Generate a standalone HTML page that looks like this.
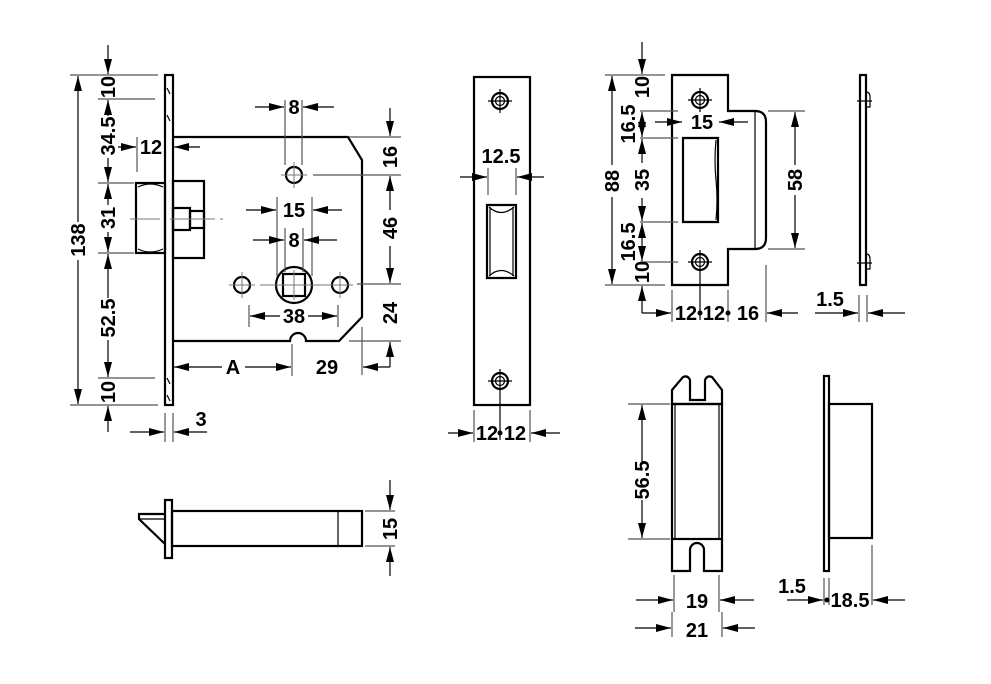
<!DOCTYPE html>
<html><head><meta charset="utf-8"><style>
html,body{margin:0;padding:0;background:#fff;}
svg{display:block;}
text{font-family:"Liberation Sans",Arial,sans-serif;font-weight:bold;font-size:20px;fill:#000;}
.o{fill:none;stroke:#000;stroke-width:2.2;}
.t{fill:none;stroke:#000;stroke-width:1.2;}
.e{fill:none;stroke:#555;stroke-width:1.2;}
.c{fill:none;stroke:#777;stroke-width:1;}
.d{fill:none;stroke:#000;stroke-width:1.2;}
</style></head><body>
<svg width="991" height="684" viewBox="0 0 991 684" xmlns="http://www.w3.org/2000/svg">
<defs>
<marker id="a" markerUnits="userSpaceOnUse" markerWidth="16" markerHeight="10" refX="15" refY="5" orient="auto"><path d="M0,1 L15,5 L0,9 z" fill="#000"/></marker>
</defs>

<!-- ===== MAIN LOCK ===== -->
<rect class="o" x="165" y="75" width="8" height="330"/>
<path class="t" d="M167,88 l3,6 M167,115 l3,6 M167,378 l3,6 M167,395 l3,6"/>
<path class="o" d="M173,137 H348 L362,160 V317 L339,341 H306 A8,8 0 0 0 290,341 H173"/>
<rect class="o" x="136" y="183" width="29" height="70"/>
<path class="t" d="M138,187 Q150,181 163,187 M138,249 Q150,255 163,249"/>
<rect class="o" x="173" y="181" width="31" height="77"/>
<rect class="o" x="173" y="208" width="17" height="22"/>
<rect class="o" x="190" y="211" width="14" height="17"/>
<path class="c" d="M130,219 H160 M170,219 H215 M220,219 h3"/>
<circle class="o" cx="294" cy="175" r="8"/>
<path class="c" d="M281,175 H307 M294,162 V188"/>
<circle class="o" cx="294" cy="285" r="18"/>
<rect class="o" x="283" y="274" width="22" height="22"/>
<path class="c" d="M283,285 H305 M294,270 V300 M260,285 H330"/>
<circle class="o" cx="242" cy="285" r="8"/>
<circle class="o" cx="340" cy="285" r="8"/>
<path class="c" d="M229,285 H255 M242,272 V298 M327,285 H353 M340,272 V298"/>

<path class="e" d="M70,75 H158 M98,99 H155 M98,183 H134 M98,253 H134 M98,378 H155 M70,405 H158"/>
<line class="d" x1="78" y1="222" x2="78" y2="76" marker-end="url(#a)"/>
<line class="d" x1="78" y1="260" x2="78" y2="404" marker-end="url(#a)"/>
<text transform="translate(85,240) rotate(-90)" text-anchor="middle">138</text>
<line class="d" x1="108" y1="45" x2="108" y2="74" marker-end="url(#a)"/>
<text transform="translate(115,87) rotate(-90)" text-anchor="middle">10</text>
<line class="d" x1="108" y1="116" x2="108" y2="100" marker-end="url(#a)"/>
<text transform="translate(115,136) rotate(-90)" text-anchor="middle">34.5</text>
<line class="d" x1="108" y1="158" x2="108" y2="182" marker-end="url(#a)"/>
<line class="d" x1="108" y1="205" x2="108" y2="184" marker-end="url(#a)"/>
<text transform="translate(115,218) rotate(-90)" text-anchor="middle">31</text>
<line class="d" x1="108" y1="232" x2="108" y2="252" marker-end="url(#a)"/>
<line class="d" x1="108" y1="298" x2="108" y2="254" marker-end="url(#a)"/>
<text transform="translate(115,318) rotate(-90)" text-anchor="middle">52.5</text>
<line class="d" x1="108" y1="340" x2="108" y2="377" marker-end="url(#a)"/>
<text transform="translate(115,392) rotate(-90)" text-anchor="middle">10</text>
<line class="d" x1="108" y1="432" x2="108" y2="406" marker-end="url(#a)"/>
<path class="e" d="M137,137 V172"/>
<line class="d" x1="118" y1="147" x2="136" y2="147" marker-end="url(#a)"/>
<line class="d" x1="200" y1="147" x2="174" y2="147" marker-end="url(#a)"/>
<text x="151" y="154" text-anchor="middle">12</text>
<path class="e" d="M165,413 V442 M173,413 V442"/>
<line class="d" x1="130" y1="432" x2="164" y2="432" marker-end="url(#a)"/>
<line class="d" x1="207" y1="432" x2="174" y2="432" marker-end="url(#a)"/>
<text x="201" y="426" text-anchor="middle">3</text>
<path class="e" d="M292,344 V376"/>
<line class="d" x1="222" y1="367" x2="174" y2="367" marker-end="url(#a)"/>
<line class="d" x1="245" y1="367" x2="291" y2="367" marker-end="url(#a)"/>
<text x="233" y="374" text-anchor="middle">A</text>
<text x="327" y="374" text-anchor="middle">29</text>
<path class="e" d="M362,327 V375"/>
<line class="d" x1="390" y1="367" x2="363" y2="367" marker-end="url(#a)"/>
<line class="d" x1="390" y1="367" x2="390" y2="342" marker-end="url(#a)"/>
<path class="e" d="M285,100 V165 M302,100 V165"/>
<line class="d" x1="255" y1="107" x2="284" y2="107" marker-end="url(#a)"/>
<line class="d" x1="334" y1="107" x2="303" y2="107" marker-end="url(#a)"/>
<text x="294" y="114" text-anchor="middle">8</text>
<path class="e" d="M277,197 V276 M312,197 V276"/>
<line class="d" x1="246" y1="210" x2="276" y2="210" marker-end="url(#a)"/>
<line class="d" x1="342" y1="210" x2="313" y2="210" marker-end="url(#a)"/>
<text x="294" y="217" text-anchor="middle">15</text>
<path class="e" d="M285,228 V272 M303,228 V272"/>
<line class="d" x1="253" y1="240" x2="284" y2="240" marker-end="url(#a)"/>
<line class="d" x1="337" y1="240" x2="304" y2="240" marker-end="url(#a)"/>
<text x="294" y="247" text-anchor="middle">8</text>
<path class="e" d="M249,305 V327 M338,305 V327"/>
<line class="d" x1="280" y1="316" x2="250" y2="316" marker-end="url(#a)"/>
<line class="d" x1="308" y1="316" x2="337" y2="316" marker-end="url(#a)"/>
<text x="294" y="323" text-anchor="middle">38</text>
<path class="e" d="M349,137 H401 M313,175 H401 M357,284 H401 M349,341 H401"/>
<line class="d" x1="390" y1="108" x2="390" y2="136" marker-end="url(#a)"/>
<text transform="translate(397,157) rotate(-90)" text-anchor="middle">16</text>
<line class="d" x1="390" y1="210" x2="390" y2="176" marker-end="url(#a)"/>
<text transform="translate(397,228) rotate(-90)" text-anchor="middle">46</text>
<line class="d" x1="390" y1="246" x2="390" y2="283" marker-end="url(#a)"/>
<text transform="translate(397,313) rotate(-90)" text-anchor="middle">24</text>

<!-- ===== FOREND PLATE ===== -->
<rect class="o" x="474" y="77" width="56" height="328"/>
<circle class="o" cx="500" cy="101" r="8"/><circle class="t" cx="500" cy="101" r="4.5"/>
<path class="t" d="M488,101 H512 M500,89 V113"/>
<circle class="o" cx="500" cy="381" r="8"/><circle class="t" cx="500" cy="381" r="4.5"/>
<path class="t" d="M488,381 H512 M500,369 V440"/>
<path class="o" d="M487,205 H516 V278 H487 Z"/>
<path class="t" d="M490,207 V276 M513,207 V276 M489,207 Q501,218 514,207 M489,276 Q501,265 514,276"/>
<path class="e" d="M488,168 V195 M516,168 V195"/>
<line class="d" x1="460" y1="177" x2="487" y2="177" marker-end="url(#a)"/>
<line class="d" x1="544" y1="177" x2="517" y2="177" marker-end="url(#a)"/>
<text x="501" y="163" text-anchor="middle">12.5</text>
<path class="e" d="M474,410 V442 M530,410 V442"/>
<line class="d" x1="448" y1="433" x2="473" y2="433" marker-end="url(#a)"/>
<line class="d" x1="560" y1="433" x2="531" y2="433" marker-end="url(#a)"/>
<circle cx="500" cy="433" r="2.5" fill="#000"/>
<text x="487" y="440" text-anchor="middle">12</text>
<text x="515" y="440" text-anchor="middle">12</text>

<!-- ===== STRIKE PLATE ===== -->
<path class="o" d="M672,75 H728 V111 H755 Q766,111 766,122 V238 Q766,249 755,249 H728 V285 H672 Z"/>
<path class="t" d="M755,112 V248"/>
<path class="o" d="M683,138 H718 V222 H683 Z"/>
<path class="t" d="M716,140 Q714,160 716,180 Q718,200 716,220"/>
<circle class="o" cx="700" cy="100" r="8"/><circle class="t" cx="700" cy="100" r="4.5"/>
<path class="t" d="M688,100 H712 M700,88 V112"/>
<circle class="o" cx="700" cy="262" r="8"/><circle class="t" cx="700" cy="262" r="4.5"/>
<path class="t" d="M688,262 H712 M700,250 V320"/>
<path class="e" d="M605,75 H665 M640,111 H678 M640,138 H678 M640,222 H678 M640,262 H678 M605,285 H665"/>
<line class="d" x1="612" y1="165" x2="612" y2="76" marker-end="url(#a)"/>
<line class="d" x1="612" y1="197" x2="612" y2="284" marker-end="url(#a)"/>
<text transform="translate(619,181) rotate(-90)" text-anchor="middle">88</text>
<line class="d" x1="642" y1="42" x2="642" y2="74" marker-end="url(#a)"/>
<text transform="translate(649,87) rotate(-90)" text-anchor="middle">10</text>
<line class="d" x1="642" y1="125" x2="642" y2="112" marker-end="url(#a)"/>
<line class="d" x1="642" y1="125" x2="642" y2="137" marker-end="url(#a)"/>
<text transform="translate(635,124) rotate(-90)" text-anchor="middle">16.5</text>
<line class="d" x1="642" y1="163" x2="642" y2="139" marker-end="url(#a)"/>
<text transform="translate(649,180) rotate(-90)" text-anchor="middle">35</text>
<line class="d" x1="642" y1="198" x2="642" y2="221" marker-end="url(#a)"/>
<line class="d" x1="642" y1="242" x2="642" y2="223" marker-end="url(#a)"/>
<line class="d" x1="642" y1="242" x2="642" y2="261" marker-end="url(#a)"/>
<text transform="translate(635,242) rotate(-90)" text-anchor="middle">16.5</text>
<text transform="translate(649,272) rotate(-90)" text-anchor="middle">10</text>
<line class="d" x1="642" y1="313" x2="642" y2="286" marker-end="url(#a)"/>
<line class="d" x1="642" y1="313" x2="671" y2="313" marker-end="url(#a)"/>
<line class="d" x1="655" y1="122" x2="682" y2="122" marker-end="url(#a)"/>
<line class="d" x1="748" y1="122" x2="719" y2="122" marker-end="url(#a)"/>
<text x="702" y="129" text-anchor="middle">15</text>
<path class="e" d="M768,111 H805 M768,249 H805"/>
<line class="d" x1="795" y1="165" x2="795" y2="112" marker-end="url(#a)"/>
<line class="d" x1="795" y1="195" x2="795" y2="248" marker-end="url(#a)"/>
<text transform="translate(802,180) rotate(-90)" text-anchor="middle">58</text>
<path class="e" d="M672,290 V322 M728,290 V322 M766,265 V322"/>
<circle cx="700" cy="313" r="2.5" fill="#000"/><circle cx="728" cy="313" r="2.5" fill="#000"/>
<line class="d" x1="798" y1="313" x2="767" y2="313" marker-end="url(#a)"/>
<text x="686" y="320" text-anchor="middle">12</text>
<text x="714" y="320" text-anchor="middle">12</text>
<text x="748" y="320" text-anchor="middle">16</text>
<rect class="o" x="860" y="75" width="6" height="210"/>
<path class="t" d="M866,92 Q870,92 870,97 V107 H866 M866,254 Q870,254 870,259 V269 H866 M857,101 H872 M857,263 H872"/>
<path class="e" d="M859,295 V322 M867,295 V322"/>
<line class="d" x1="815" y1="313" x2="858" y2="313" marker-end="url(#a)"/>
<line class="d" x1="905" y1="313" x2="868" y2="313" marker-end="url(#a)"/>
<text x="830" y="306" text-anchor="middle">1.5</text>

<!-- ===== BOLT ===== -->
<rect class="o" x="165" y="500" width="7" height="58"/>
<rect class="o" x="172" y="511" width="190" height="35"/>
<path class="t" d="M338,511 V546"/>
<path class="o" d="M165,514 H139 V519 L165,544"/>
<path class="t" d="M140,519 H165"/>
<path class="e" d="M365,511 H395 M365,546 H395"/>
<line class="d" x1="390" y1="480" x2="390" y2="510" marker-end="url(#a)"/>
<line class="d" x1="390" y1="576" x2="390" y2="547" marker-end="url(#a)"/>
<text transform="translate(397,529) rotate(-90)" text-anchor="middle">15</text>

<!-- ===== KEEP ===== -->
<path class="o" d="M672,390 L683,377 Q688,375 690,380 V400 H705 V380 Q707,375 712,377 L722,390 V404 H672 Z"/>
<rect class="o" x="672" y="404" width="50" height="135"/>
<path class="t" d="M675,405 V538 M719,405 V538"/>
<path class="o" d="M672,539 V571 H690 V550 A7,7 0 0 1 704,550 V571 H722 V539"/>
<path class="e" d="M628,404 H670 M628,539 H670"/>
<line class="d" x1="642" y1="462" x2="642" y2="405" marker-end="url(#a)"/>
<line class="d" x1="642" y1="500" x2="642" y2="538" marker-end="url(#a)"/>
<text transform="translate(649,480) rotate(-90)" text-anchor="middle">56.5</text>
<path class="e" d="M674,575 V612 M719,575 V612 M672,612 V637 M722,612 V637"/>
<line class="d" x1="636" y1="600" x2="673" y2="600" marker-end="url(#a)"/>
<line class="d" x1="754" y1="600" x2="720" y2="600" marker-end="url(#a)"/>
<text x="697" y="608" text-anchor="middle">19</text>
<line class="d" x1="635" y1="628" x2="671" y2="628" marker-end="url(#a)"/>
<line class="d" x1="755" y1="628" x2="723" y2="628" marker-end="url(#a)"/>
<text x="697" y="637" text-anchor="middle">21</text>
<rect class="o" x="824" y="376" width="5" height="195"/>
<rect class="o" x="829" y="404" width="43" height="134"/>
<path class="e" d="M824,578 V605 M829,578 V605 M872,545 V605"/>
<line class="d" x1="787" y1="600" x2="823" y2="600" marker-end="url(#a)"/>
<circle cx="827" cy="600" r="2.5" fill="#000"/>
<line class="d" x1="905" y1="600" x2="873" y2="600" marker-end="url(#a)"/>
<text x="792" y="593" text-anchor="middle">1.5</text>
<text x="850" y="607" text-anchor="middle">18.5</text>
</svg>
</body></html>
